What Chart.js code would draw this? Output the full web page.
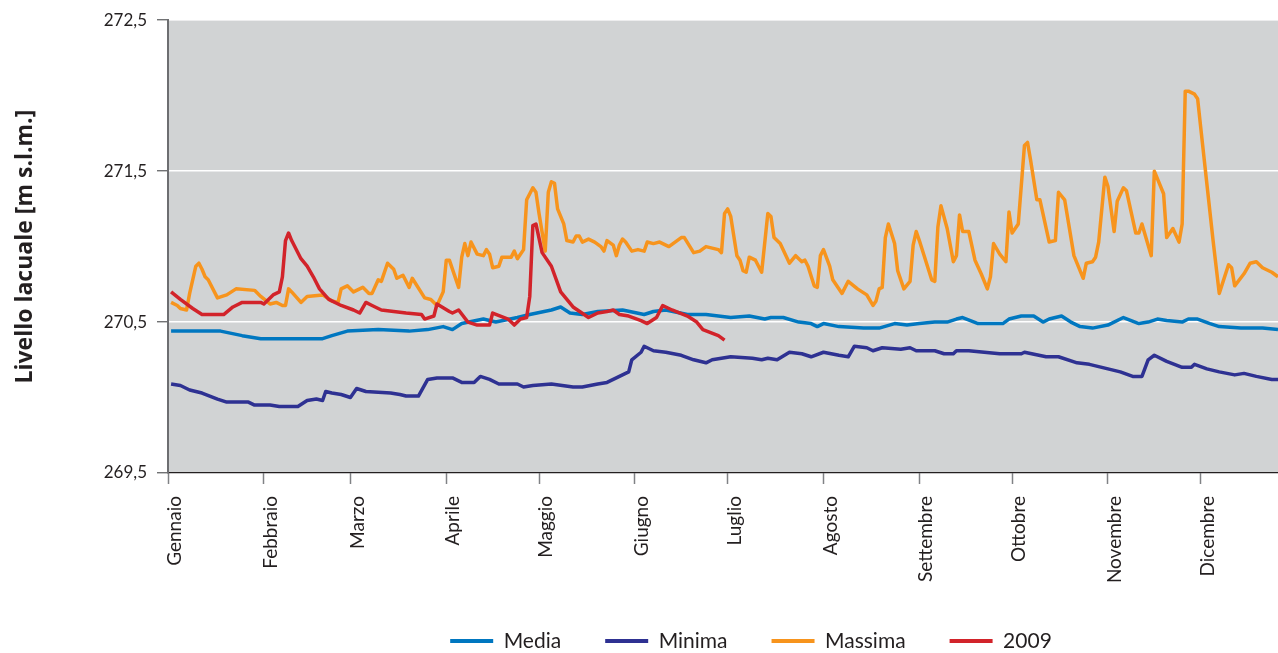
<!DOCTYPE html>
<html>
<head>
<meta charset="utf-8">
<script src="https://cdn.jsdelivr.net/npm/chart.js@4.4.1/dist/chart.umd.min.js"></script>
<style>
  html, body { margin: 0; padding: 0; background: #fff; }
  #wrap { width: 1278px; height: 653px; }
</style>
</head>
<body>
<div id="wrap"><canvas id="lake_chart"></canvas></div>
<script>
// month labels and the day of year where each month starts
const months = ['Gennaio', 'Febbraio', 'Marzo', 'Aprile', 'Maggio', 'Giugno', 'Luglio', 'Agosto', 'Settembre', 'Ottobre', 'Novembre', 'Dicembre'];
const monthStart = [0, 31, 59, 90, 120, 151, 181, 212, 243, 273, 304, 334];
const yTicks = [269.5, 270.5, 271.5, 272.5];

// values (day of year, level in m s.l.m.)
const mediaDays = [1, 17, 24, 30, 50, 53, 58, 68, 78, 84, 89, 92, 95, 102, 106, 113, 117, 124, 127, 130, 134, 139, 147, 154, 157, 161, 168, 174, 182, 188, 193, 195, 199, 204, 208, 210, 212, 217, 225, 230, 235, 239, 243, 248, 252, 255, 257, 262, 270, 272, 276, 280, 283, 285, 289, 292, 295, 299, 304, 309, 314, 317, 320, 323, 328, 330, 333, 337, 340, 347, 354, 359];
const mediaVals = [270.44, 270.44, 270.41, 270.39, 270.39, 270.41, 270.44, 270.45, 270.44, 270.45, 270.47, 270.45, 270.49, 270.52, 270.50, 270.53, 270.55, 270.58, 270.60, 270.56, 270.55, 270.57, 270.58, 270.55, 270.57, 270.58, 270.55, 270.55, 270.53, 270.54, 270.52, 270.53, 270.53, 270.50, 270.49, 270.47, 270.49, 270.47, 270.46, 270.46, 270.49, 270.48, 270.49, 270.50, 270.50, 270.52, 270.53, 270.49, 270.49, 270.52, 270.54, 270.54, 270.50, 270.52, 270.54, 270.50, 270.47, 270.46, 270.48, 270.53, 270.49, 270.50, 270.52, 270.51, 270.50, 270.52, 270.52, 270.49, 270.47, 270.46, 270.46, 270.45];

const minimaDays = [1, 4, 7, 11, 16, 19, 26, 28, 33, 36, 42, 45, 48, 50, 51, 53, 56, 59, 61, 64, 72, 75, 77, 81, 84, 87, 92, 95, 99, 101, 104, 107, 113, 115, 118, 124, 131, 134, 139, 142, 145, 149, 150, 153, 154, 157, 161, 166, 170, 174, 176, 182, 189, 192, 194, 197, 201, 205, 208, 212, 217, 220, 222, 226, 228, 231, 237, 240, 242, 248, 251, 254, 255, 259, 264, 269, 276, 277, 284, 288, 294, 298, 304, 308, 312, 315, 317, 319, 323, 328, 331, 332, 336, 340, 345, 348, 352, 357, 359];
const minimaVals = [270.09, 270.08, 270.05, 270.03, 269.99, 269.97, 269.97, 269.95, 269.95, 269.94, 269.94, 269.98, 269.99, 269.98, 270.04, 270.03, 270.02, 270.00, 270.06, 270.04, 270.03, 270.02, 270.01, 270.01, 270.12, 270.13, 270.13, 270.10, 270.10, 270.14, 270.12, 270.09, 270.09, 270.07, 270.08, 270.09, 270.07, 270.07, 270.09, 270.10, 270.13, 270.17, 270.25, 270.30, 270.34, 270.31, 270.30, 270.28, 270.25, 270.23, 270.25, 270.27, 270.26, 270.25, 270.26, 270.25, 270.30, 270.29, 270.27, 270.30, 270.28, 270.27, 270.34, 270.33, 270.31, 270.33, 270.32, 270.33, 270.31, 270.31, 270.29, 270.29, 270.31, 270.31, 270.30, 270.29, 270.29, 270.30, 270.27, 270.27, 270.23, 270.22, 270.19, 270.17, 270.14, 270.14, 270.25, 270.28, 270.24, 270.20, 270.20, 270.22, 270.19, 270.17, 270.15, 270.16, 270.14, 270.12, 270.12];

const massimaDays = [1, 3, 4, 6, 7, 9, 10, 11, 12, 13, 16, 19, 22, 28, 30, 33, 35, 37, 38, 39, 40, 43, 45, 50, 53, 55, 56, 58, 60, 63, 65, 66, 68, 69, 71, 73, 74, 76, 78, 79, 83, 85, 87, 89, 90, 91, 94, 95, 96, 97, 98, 100, 102, 103, 104, 105, 107, 108, 111, 112, 113, 115, 116, 118, 119, 120, 122, 123, 124, 125, 126, 128, 129, 131, 132, 133, 134, 136, 138, 140, 141, 142, 144, 145, 146, 147, 148, 150, 152, 154, 155, 157, 159, 162, 166, 167, 170, 172, 174, 178, 179, 180, 181, 182, 184, 185, 186, 187, 188, 190, 192, 194, 195, 196, 198, 201, 203, 205, 206, 207, 209, 210, 211, 212, 214, 215, 218, 220, 223, 226, 228, 229, 230, 231, 232, 233, 235, 236, 238, 240, 241, 242, 243, 247, 248, 249, 250, 252, 254, 255, 256, 257, 259, 261, 263, 265, 266, 267, 269, 271, 272, 273, 275, 277, 278, 279, 281, 282, 285, 287, 288, 290, 293, 296, 297, 299, 300, 301, 303, 304, 306, 307, 309, 310, 313, 314, 315, 318, 319, 322, 323, 325, 327, 328, 329, 330, 332, 333, 334, 338, 340, 343, 344, 345, 348, 350, 352, 354, 357, 359];
const massimaVals = [270.63, 270.61, 270.59, 270.58, 270.69, 270.87, 270.89, 270.85, 270.80, 270.78, 270.66, 270.68, 270.72, 270.71, 270.67, 270.62, 270.63, 270.61, 270.61, 270.72, 270.70, 270.63, 270.67, 270.68, 270.64, 270.63, 270.72, 270.74, 270.70, 270.73, 270.69, 270.69, 270.78, 270.77, 270.89, 270.85, 270.79, 270.81, 270.73, 270.79, 270.66, 270.65, 270.61, 270.70, 270.91, 270.91, 270.73, 270.93, 271.02, 270.94, 271.03, 270.95, 270.94, 270.98, 270.95, 270.86, 270.87, 270.93, 270.93, 270.97, 270.92, 270.98, 271.31, 271.39, 271.36, 271.22, 270.97, 271.36, 271.43, 271.42, 271.25, 271.15, 271.04, 271.03, 271.07, 271.07, 271.03, 271.05, 271.03, 271.00, 270.97, 271.04, 271.01, 270.94, 271.01, 271.05, 271.03, 270.97, 270.98, 270.97, 271.03, 271.02, 271.03, 271.00, 271.06, 271.06, 270.96, 270.97, 271.00, 270.98, 270.96, 271.22, 271.25, 271.20, 270.94, 270.91, 270.84, 270.83, 270.93, 270.91, 270.83, 271.22, 271.20, 271.06, 271.02, 270.89, 270.94, 270.90, 270.91, 270.87, 270.74, 270.73, 270.94, 270.98, 270.87, 270.78, 270.69, 270.77, 270.72, 270.68, 270.61, 270.64, 270.72, 270.73, 271.06, 271.15, 271.02, 270.84, 270.72, 270.77, 271.01, 271.10, 271.04, 270.78, 270.77, 271.13, 271.27, 271.12, 270.90, 270.94, 271.21, 271.10, 271.10, 270.91, 270.82, 270.72, 270.80, 271.02, 270.95, 270.90, 271.23, 271.09, 271.15, 271.67, 271.69, 271.57, 271.31, 271.31, 271.03, 271.04, 271.36, 271.31, 270.94, 270.79, 270.89, 270.90, 270.93, 271.03, 271.46, 271.40, 271.10, 271.30, 271.39, 271.37, 271.09, 271.09, 271.15, 270.94, 271.50, 271.35, 271.06, 271.12, 271.03, 271.15, 272.03, 272.03, 272.01, 271.98, 271.79, 271.04, 270.69, 270.88, 270.86, 270.74, 270.82, 270.89, 270.90, 270.86, 270.83, 270.80];

const y2009Days = [1, 4, 8, 11, 18, 21, 24, 30, 31, 34, 36, 37, 38, 39, 40, 43, 45, 47, 49, 52, 56, 60, 62, 64, 66, 69, 73, 77, 82, 83, 86, 87, 91, 92, 94, 97, 100, 104, 105, 110, 112, 114, 116, 117, 118, 119, 121, 124, 127, 131, 136, 139, 142, 144, 146, 149, 153, 155, 158, 160, 161, 163, 168, 171, 173, 178, 180];
const y2009Vals = [270.70, 270.65, 270.59, 270.55, 270.55, 270.60, 270.63, 270.63, 270.62, 270.68, 270.70, 270.80, 271.04, 271.09, 271.04, 270.92, 270.87, 270.80, 270.72, 270.65, 270.61, 270.58, 270.56, 270.63, 270.61, 270.58, 270.57, 270.56, 270.55, 270.52, 270.54, 270.62, 270.57, 270.56, 270.58, 270.50, 270.48, 270.48, 270.56, 270.52, 270.48, 270.52, 270.53, 270.67, 271.14, 271.15, 270.96, 270.87, 270.70, 270.60, 270.53, 270.56, 270.57, 270.58, 270.55, 270.54, 270.51, 270.49, 270.53, 270.61, 270.60, 270.58, 270.54, 270.50, 270.45, 270.41, 270.38];

const toPoints = (days, vals) => days.map((d, i) => ({ x: d, y: vals[i] }));

Chart.defaults.font.family = 'Lato, "Open Sans", sans-serif';
Chart.defaults.color = '#231f20';

const plotBg = {
  id: 'plotBg',
  beforeDraw(chart) {
    const { ctx, chartArea: a } = chart;
    ctx.save();
    ctx.fillStyle = '#d1d3d4';
    ctx.fillRect(a.left, a.top, a.right - a.left, a.bottom - a.top);
    ctx.restore();
  }
};

// legend sits right of centre; pull it up a little into the space left by the month labels
const legendShift = {
  id: 'legendShift',
  afterLayout(chart) {
    const l = chart.legend;
    l.left += 112; l.right += 112;
    l.top -= 6.5; l.bottom -= 6.5;
  }
};

const line = (label, days, vals, color, order) => ({
  label: label,
  data: toPoints(days, vals),
  borderColor: color,
  backgroundColor: color,
  borderWidth: 3.5,
  pointRadius: 0,
  tension: 0,
  borderJoinStyle: 'round',
  fill: false,
  order: order
});

const ctx = document.getElementById('lake_chart');
new Chart(ctx, {
  type: 'line',
  data: {
    datasets: [
      line('Media', mediaDays, mediaVals, '#0077c0', 3),
      line('Minima', minimaDays, minimaVals, '#2e3192', 2),
      line('Massima', massimaDays, massimaVals, '#f7941d', 1),
      line('2009', y2009Days, y2009Vals, '#d2232a', 0)
    ]
  },
  options: {
    responsive: true,
    maintainAspectRatio: false,
    animation: false,
    layout: { padding: { top: 20, right: 0, bottom: -15, left: 0 } },
    plugins: {
      tooltip: { enabled: false },
      legend: {
        position: 'bottom',
        labels: {
          boxWidth: 43,
          boxHeight: 4,
          padding: 44,
          font: { size: 21 },
          color: '#231f20',
          generateLabels: (chart) => Chart.defaults.plugins.legend.labels.generateLabels(chart)
            .sort((a, b) => a.datasetIndex - b.datasetIndex)
            .map(item => ({ ...item, lineWidth: 0 }))
        }
      }
    },
    scales: {
      x: {
        type: 'linear',
        min: 0,
        max: 359,
        afterBuildTicks: (scale) => { scale.ticks = monthStart.map(v => ({ value: v })); },
        afterFit: (scale) => { scale.height = 120; },
        ticks: {
          autoSkip: false,
          maxRotation: 90,
          minRotation: 90,
          padding: 12,
          labelOffset: 7,
          font: { size: 19 },
          color: '#231f20',
          callback: (value, index) => months[index]
        },
        grid: {
          drawOnChartArea: false,
          drawTicks: true,
          tickLength: 11,
          tickColor: '#808285',
          tickWidth: 1.5
        },
        border: { display: true, color: '#231f20', width: 1.2 }
      },
      y: {
        min: 269.5,
        max: 272.5,
        afterBuildTicks: (scale) => { scale.ticks = yTicks.map(v => ({ value: v })); },
        afterFit: (scale) => { scale.width = 168; },
        ticks: {
          padding: 10,
          font: { size: 17 },
          color: '#231f20',
          callback: (value) => value.toFixed(1).replace('.', ',')
        },
        grid: {
          color: (c) => (c.tick && c.tick.value === 269.5) ? 'rgba(0,0,0,0)' : '#ffffff',
          lineWidth: 1.5,
          drawTicks: true,
          tickLength: 11,
          tickColor: '#58595b',
          tickWidth: 1.2
        },
        border: { display: true, color: '#6d6e71', width: 2 },
        title: {
          display: true,
          text: 'Livello lacuale [m s.l.m.]',
          font: { family: '"Open Sans", Lato, sans-serif', size: 23, weight: 'bold' },
          color: '#231f20',
          padding: { top: 12, bottom: 0 }
        }
      }
    }
  },
  plugins: [plotBg, legendShift]
});
</script>
</body>
</html>
